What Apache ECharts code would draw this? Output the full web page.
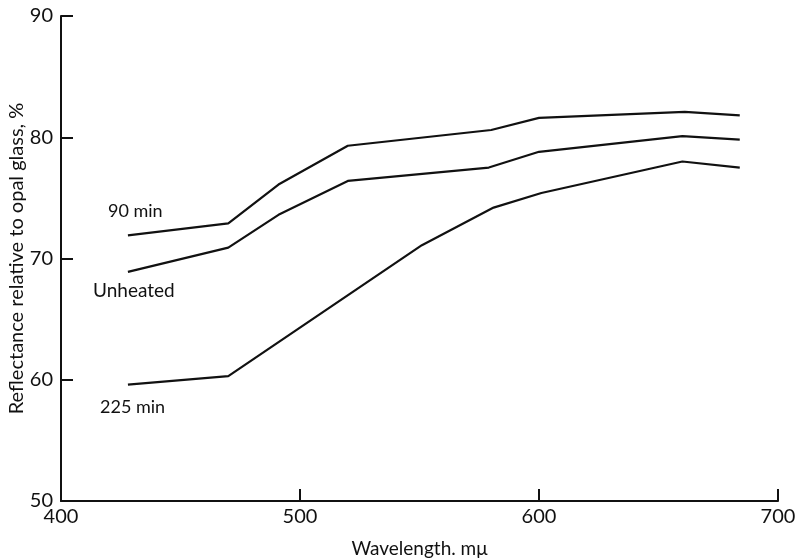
<!DOCTYPE html>
<html>
<head>
<meta charset="utf-8">
<script src="https://cdn.jsdelivr.net/npm/echarts@6/dist/echarts.min.js"></script>
<style>
  html, body { margin: 0; padding: 0; background: #fff; }
  #main { width: 798px; height: 558px; }
</style>
</head>
<body>
<div id="main"></div>
<script>
// wavelength (m\u03bc) and reflectance (%)
var wave90 = [428, 470, 491, 520, 580, 600, 661, 684];
var refl90 = [71.9, 72.9, 76.1, 79.3, 80.6, 81.6, 82.1, 81.8];

var waveUnheated = [428, 470, 491, 520, 579, 600, 660, 684];
var reflUnheated = [68.9, 70.9, 73.6, 76.4, 77.5, 78.8, 80.1, 79.8];

var wave225 = [428, 470, 551, 581, 601, 660, 684];
var refl225 = [59.6, 60.3, 71.1, 74.2, 75.4, 78.0, 77.5];

var xTicks = [400, 500, 600, 700];
var yTicks = [50, 60, 70, 80, 90];

var font = 'Lato, "Open Sans", sans-serif';

function pairs(xs, ys) {
  return xs.map(function (x, i) { return [x, ys[i]]; });
}

function lineSeries(name, xs, ys) {
  return {
    name: name,
    type: 'line',
    data: pairs(xs, ys),
    showSymbol: false,
    symbol: 'none',
    lineStyle: { color: '#111', width: 2.2 },
    animation: false
  };
}

var chart = echarts.init(document.getElementById('main'));

var option = {
  backgroundColor: '#ffffff',
  animation: false,
  grid: { left: 61, right: 20, top: 16, bottom: 57, containLabel: false, outerBoundsMode: 'none' },
  xAxis: {
    type: 'value',
    min: xTicks[0],
    max: xTicks[xTicks.length - 1],
    interval: 100,
    name: 'Wavelength. m\u03bc',
    nameLocation: 'middle',
    nameGap: 38,
    nameMoveOverlap: false,
    nameTextStyle: { fontFamily: font, fontSize: 19, color: '#111' },
    axisLine: { lineStyle: { color: '#111', width: 2 } },
    axisTick: { inside: true, length: 12, lineStyle: { color: '#111', width: 2 } },
    axisLabel: { fontFamily: font, fontSize: 20, color: '#111', margin: 6 },
    splitLine: { show: false }
  },
  yAxis: {
    type: 'value',
    min: yTicks[0],
    max: yTicks[yTicks.length - 1],
    interval: 10,
    name: 'Reflectance relative to opal glass, %',
    nameLocation: 'middle',
    nameGap: 34,
    nameMoveOverlap: false,
    nameTextStyle: { fontFamily: font, fontSize: 20, color: '#111' },
    axisLine: { show: true, lineStyle: { color: '#111', width: 2 } },
    axisTick: { show: true, inside: true, length: 12, lineStyle: { color: '#111', width: 2 } },
    axisLabel: { fontFamily: font, fontSize: 20, color: '#111', margin: 8 },
    splitLine: { show: false }
  },
  graphic: [
    { type: 'text', left: 108, top: 202, style: { text: '90 min', font: '18px ' + font, fill: '#111' } },
    { type: 'text', left: 93, top: 281, style: { text: 'Unheated', font: '19px ' + font, fill: '#111' } },
    { type: 'text', left: 100, top: 398, style: { text: '225 min', font: '18px ' + font, fill: '#111' } }
  ],
  series: [
    lineSeries('90 min', wave90, refl90),
    lineSeries('Unheated', waveUnheated, reflUnheated),
    lineSeries('225 min', wave225, refl225)
  ]
};

chart.setOption(option);
</script>
</body>
</html>
